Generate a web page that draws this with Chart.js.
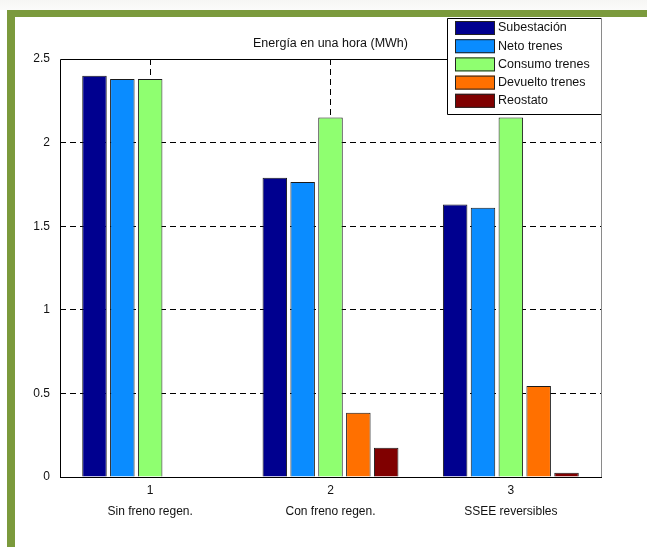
<!DOCTYPE html>
<html>
<head>
<meta charset="utf-8">
<script src="https://cdn.jsdelivr.net/npm/chart.js@4/dist/chart.umd.min.js"></script>
<style>
  html, body { margin: 0; padding: 0; background: #fff; }
  #wrap { width: 647px; height: 547px; position: relative; }
</style>
</head>
<body>
<div id="wrap"><canvas id="c" width="647" height="547"></canvas></div>
<script>
// Categories and tick labels
const categories = ['1', '2', '3'];
const categoryNames = ['Sin freno regen.', 'Con freno regen.', 'SSEE reversibles'];
const yTickValues = [0, 0.5, 1, 1.5, 2, 2.5];
const yTickLabels = ['0', '0.5', '1', '1.5', '2', '2.5'];

// Energy per hour (MWh) for each series
const subestacion    = [2.40, 1.79, 1.63];
const netoTrenes     = [2.38, 1.765, 1.61];
const consumoTrenes  = [2.38, 2.15, 2.15];
const devueltoTrenes = [0, 0.385, 0.545];
const reostato       = [0, 0.175, 0.025];

const seriesNames  = ['Subestación', 'Neto trenes', 'Consumo trenes', 'Devuelto trenes', 'Reostato'];
const seriesValues = [subestacion, netoTrenes, consumoTrenes, devueltoTrenes, reostato];
const seriesColors = ['#00008F', '#0A8CFF', '#8FFF70', '#FF7000', '#800000'];

const titleText = 'Energía en una hora (MWh)';
const FONT = "'Liberation Sans', Arial, sans-serif";

// Page frame, title, axes box and legend
const decor = {
  id: 'decor',
  beforeDraw(chart) {
    const ctx = chart.ctx;
    ctx.save();
    ctx.fillStyle = '#fff';
    ctx.fillRect(0, 0, chart.width, chart.height);
    const g = ctx.createLinearGradient(0, 0, 0, 10);
    g.addColorStop(0, '#f6f6f4');
    g.addColorStop(1, '#fbfbfa');
    ctx.fillStyle = g;
    ctx.fillRect(0, 0, chart.width, 10);
    ctx.fillStyle = '#7B9A3C';
    ctx.fillRect(7, 10, chart.width - 7, 7);
    ctx.fillRect(7, 10, 8, chart.height - 10);
    ctx.restore();
  },
  afterDatasetsDraw(chart) {
    const ctx = chart.ctx;
    const a = chart.chartArea;
    ctx.save();
    ctx.setLineDash([]);
    ctx.lineWidth = 1;
    ctx.strokeStyle = '#000';
    ctx.beginPath();
    ctx.moveTo(a.left + 0.5, a.bottom + 0.5);
    ctx.lineTo(a.left + 0.5, a.top + 0.5);
    ctx.lineTo(a.right + 0.5, a.top + 0.5);
    ctx.moveTo(a.left, a.bottom + 0.5);
    ctx.lineTo(a.right + 1, a.bottom + 0.5);
    ctx.stroke();
    ctx.strokeStyle = '#8a8a8a';
    ctx.beginPath();
    ctx.moveTo(a.right + 0.5, a.top);
    ctx.lineTo(a.right + 0.5, a.bottom);
    ctx.stroke();

    // title
    ctx.fillStyle = '#111';
    ctx.font = '12.5px ' + FONT;
    ctx.textAlign = 'center';
    ctx.textBaseline = 'middle';
    ctx.fillText(titleText, (a.left + a.right) / 2, 44);
    ctx.restore();
  },
  afterDraw(chart) {
    const ctx = chart.ctx;
    const bx = 447, by = 18, bw = 154, bh = 96;
    ctx.save();
    ctx.setLineDash([]);
    ctx.fillStyle = '#fff';
    ctx.fillRect(bx, by, bw, bh);
    ctx.lineWidth = 1;
    ctx.strokeStyle = '#000';
    ctx.beginPath();
    ctx.moveTo(bx + bw + 0.5, by + 0.5);
    ctx.lineTo(bx + 0.5, by + 0.5);
    ctx.lineTo(bx + 0.5, by + bh + 0.5);
    ctx.lineTo(bx + bw + 0.5, by + bh + 0.5);
    ctx.stroke();
    ctx.strokeStyle = '#8a8a8a';
    ctx.beginPath();
    ctx.moveTo(bx + bw + 0.5, by);
    ctx.lineTo(bx + bw + 0.5, by + bh + 1);
    ctx.stroke();

    ctx.font = '12.5px ' + FONT;
    ctx.textAlign = 'left';
    ctx.textBaseline = 'middle';
    chart.data.datasets.forEach((ds, i) => {
      const y = by + 3 + i * 18.2;
      ctx.fillStyle = ds.backgroundColor;
      ctx.fillRect(455, y, 40, 14);
      ctx.strokeStyle = '#222';
      ctx.strokeRect(455.5, y + 0.5, 39, 13);
      ctx.fillStyle = '#111';
      ctx.fillText(ds.label, 498, y + 7);
    });
    ctx.restore();
  }
};

const datasets = seriesNames.map((name, i) => ({
  label: name,
  data: seriesValues[i],
  backgroundColor: seriesColors[i],
  borderColor: '#1a1a1a',
  borderWidth: 1,
  borderSkipped: 'start',
  categoryPercentage: 0.772,
  barPercentage: 0.88
}));

new Chart(document.getElementById('c'), {
  type: 'bar',
  data: {
    labels: categories.map((c, i) => [c, categoryNames[i]]),
    datasets
  },
  options: {
    responsive: false,
    animation: false,
    devicePixelRatio: 1,
    layout: { padding: { top: 59, right: 46, left: 0, bottom: 0 } },
    plugins: {
      legend: { display: false },
      title: { display: false },
      tooltip: { enabled: false }
    },
    scales: {
      x: {
        offset: true,
        grid: {
          offset: false,
          color: '#000',
          lineWidth: 1,
          drawTicks: false
        },
        border: { display: false, dash: [6, 4] },
        ticks: {
          color: '#111',
          padding: 3,
          font: { family: FONT, size: 12, lineHeight: 1.75 }
        },
        afterFit(scale) { scale.height = 70; }
      },
      y: {
        min: 0,
        max: 2.5,
        afterBuildTicks(scale) {
          scale.ticks = yTickValues.map(v => ({ value: v }));
        },
        grid: {
          color: (c) => (c.tick && (c.tick.value === 0 || c.tick.value === 2.5)) ? 'rgba(0,0,0,0)' : '#000',
          lineWidth: 1,
          drawTicks: false
        },
        border: { display: false, dash: [6, 4] },
        ticks: {
          color: '#111',
          padding: 10,
          font: { family: FONT, size: 12 },
          callback: (v) => {
            const k = yTickValues.indexOf(v);
            return k >= 0 ? yTickLabels[k] : '';
          }
        },
        afterFit(scale) { scale.width = 60; }
      }
    }
  },
  plugins: [decor]
});
</script>
</body>
</html>
